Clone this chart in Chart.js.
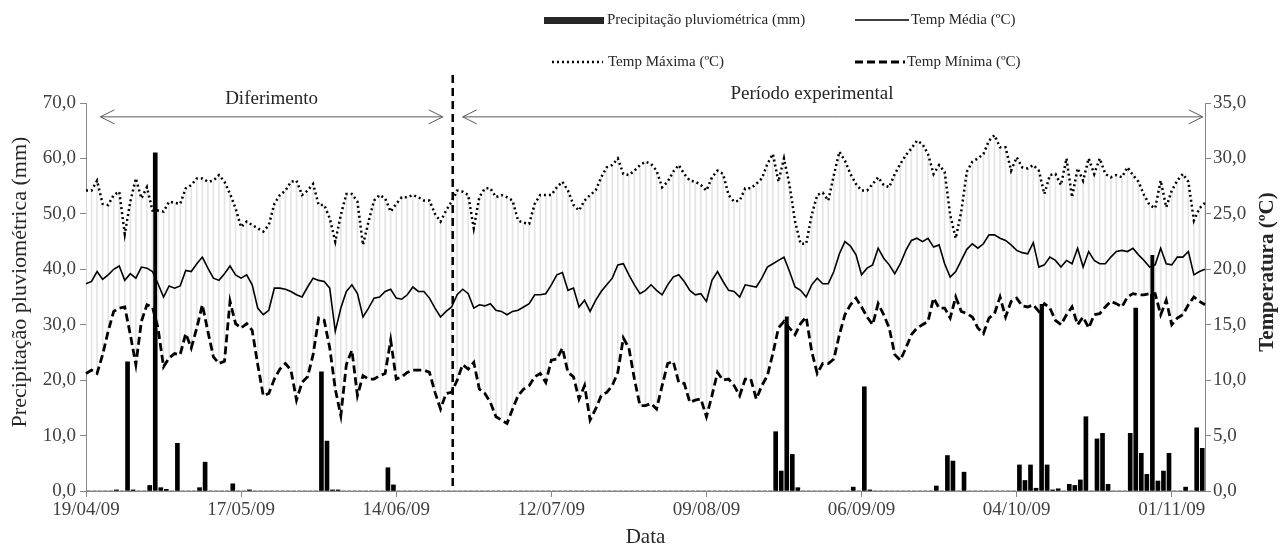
<!DOCTYPE html>
<html lang="pt">
<head>
<meta charset="UTF-8">
<title>Precipitação e temperatura diária</title>
<script src="https://cdn.jsdelivr.net/npm/chart.js@4.4.0/dist/chart.umd.min.js"></script>
<style>
  html, body { margin: 0; padding: 0; background: #fff; }
  #wrap { position: relative; width: 1284px; height: 548px; }
</style>
</head>
<body>
<div id="wrap"><canvas id="chart"></canvas></div>
<script>
// daily values, 19/04/09 onwards
const tmax = [
  27.1,27.1,28.0,25.9,25.8,26.7,27.0,23.2,26.1,28.2,
  26.4,27.4,25.3,25.3,25.2,26.1,26.0,25.9,27.3,27.6,
  28.2,28.2,27.9,28.0,28.5,27.9,26.8,25.5,23.8,24.3,
  24.0,23.7,23.4,24.0,25.9,26.7,27.1,27.9,28.0,26.7,
  27.1,27.7,25.8,25.8,24.6,22.5,24.9,26.8,26.8,26.1,
  22.2,24.3,26.2,26.7,26.4,25.2,25.9,26.5,26.5,26.7,
  26.5,26.2,26.2,25.0,24.3,25.3,26.1,27.1,27.0,26.7,
  23.7,26.5,27.3,27.3,26.5,26.7,26.5,26.2,24.4,24.2,
  24.1,25.9,26.7,26.7,26.7,27.4,27.9,27.1,25.8,25.3,
  26.2,26.7,27.1,28.3,29.2,29.4,30.0,28.6,28.5,28.9,
  29.4,29.7,29.5,28.9,27.4,27.9,28.8,29.4,28.6,28.0,
  27.9,27.6,27.1,28.3,28.9,28.6,26.7,26.1,26.2,27.3,
  27.3,27.7,28.2,29.5,30.4,27.9,30.0,27.6,24.3,22.3,
  22.3,24.9,26.7,26.9,26.2,28.5,30.6,29.8,28.6,27.7,
  27.1,27.1,27.7,28.3,27.6,27.4,28.6,29.5,30.3,30.9,
  31.6,31.3,30.4,28.6,29.4,28.8,24.9,22.8,25.2,28.8,
  29.7,30.0,30.4,31.6,32.1,31.0,31.0,28.9,30.1,29.2,
  29.1,29.4,28.9,26.8,28.5,28.6,27.6,30.0,26.5,29.1,
  28.0,30.0,28.6,30.0,28.6,28.3,28.5,28.3,29.2,28.5,
  27.9,26.7,25.8,25.5,28.0,25.6,27.1,28.0,28.6,27.9,
  24.4,25.5,26.0
];
const tmed = [
  18.7,18.9,19.8,19.1,19.5,20.0,20.3,19.0,19.6,19.2,
  20.2,20.1,19.8,18.7,17.5,18.5,18.3,18.5,19.9,19.8,
  20.5,21.1,20.1,19.2,19.0,19.6,20.3,19.5,19.2,19.5,
  18.6,16.5,15.9,16.3,18.3,18.3,18.2,18.0,17.7,17.5,
  18.4,19.2,19.0,18.9,18.3,14.4,16.5,18.0,18.6,17.8,
  15.7,16.5,17.4,17.5,18.0,18.2,17.4,17.3,17.7,18.4,
  18.0,18.0,17.4,16.5,15.7,16.2,16.6,17.7,18.2,17.8,
  16.5,16.8,16.7,16.9,16.3,16.2,15.9,16.2,16.3,16.6,
  16.9,17.7,17.7,17.8,18.6,19.5,19.7,18.1,18.3,16.6,
  17.2,16.2,17.2,18.0,18.6,19.2,20.4,20.5,19.5,18.6,
  17.8,18.1,18.6,18.1,17.7,18.6,19.3,19.5,18.9,18.1,
  17.7,17.8,17.1,19.0,19.8,18.9,18.1,18.0,17.5,18.6,
  18.5,18.4,19.2,20.2,20.5,20.8,21.1,19.8,18.4,18.1,
  17.5,18.6,19.2,18.7,18.7,19.8,21.4,22.5,22.1,21.3,
  19.5,20.1,20.4,21.9,21.0,20.4,19.6,20.5,21.7,22.6,
  22.8,22.5,22.8,22.0,22.2,20.5,19.3,19.8,20.8,21.8,
  22.3,21.9,22.3,23.1,23.1,22.8,22.6,22.2,21.7,21.5,
  21.4,22.4,20.2,20.4,21.1,20.8,20.2,20.8,20.5,21.9,
  20.2,21.6,20.8,20.5,20.5,21.1,21.6,21.7,21.6,21.9,
  21.3,20.8,20.2,20.4,21.9,20.5,20.4,21.1,21.1,21.6,
  19.5,19.8,20.0
];
const tmin = [
  10.6,10.9,10.6,12.3,14.4,16.2,16.5,16.6,14.1,11.4,
  15.3,16.8,16.6,14.7,11.2,12.0,12.4,12.3,14.2,12.9,
  14.7,16.8,14.4,12.1,11.5,11.7,17.1,15.1,14.7,15.1,
  14.5,11.4,8.6,8.8,10.1,11.0,11.5,10.9,8.2,9.8,
  10.3,12.3,15.6,15.4,12.9,9.2,6.8,11.4,12.7,8.6,
  10.4,10.1,10.1,10.4,10.6,13.6,10.1,10.3,10.7,10.9,
  10.9,10.9,10.7,8.9,7.4,8.8,8.9,10.0,11.4,11.0,
  11.6,9.2,8.8,8.0,6.7,6.4,6.1,7.4,8.6,9.2,
  9.5,10.3,10.6,9.8,11.8,11.9,12.9,10.7,10.3,8.3,
  9.5,6.4,7.4,8.6,8.9,9.5,10.7,13.8,12.9,10.1,
  7.7,7.7,7.9,7.4,9.5,11.5,11.7,9.8,9.7,8.0,
  8.2,8.3,6.7,8.6,10.7,10.0,10.1,9.5,8.6,10.1,
  10.1,8.3,9.5,10.4,12.4,14.7,15.3,14.7,14.1,15.1,
  15.7,12.6,10.6,11.5,11.5,11.9,14.1,15.9,16.8,17.4,
  16.6,15.7,15.0,16.9,15.9,14.7,12.3,11.8,12.9,14.1,
  14.7,15.0,15.3,17.4,16.5,16.5,15.6,17.5,16.2,16.0,
  15.7,14.7,14.2,15.6,16.0,17.5,15.7,17.1,17.4,16.7,
  16.6,16.8,16.2,16.9,16.5,15.4,15.0,15.9,16.6,15.0,
  15.7,14.7,15.9,16.0,16.6,17.1,16.9,16.6,17.5,17.8,
  17.7,17.7,17.8,17.8,15.9,17.2,15.0,15.6,15.9,16.8,
  17.5,17.1,16.8
];
// daily rainfall (mm)
const precip = [
  0,0,0,0,0,0.2,0,23.3,0.2,0,
  0,1.0,61.0,0.6,0.3,0,8.6,0,0,0,
  0.6,5.2,0,0,0,0,1.3,0,0,0.2,
  0,0,0,0,0,0,0,0,0,0,
  0,0,21.5,9.0,0.2,0.2,0,0,0,0,
  0,0,0,0,4.2,1.1,0,0,0,0,
  0,0,0,0,0,0,0,0,0,0,
  0,0,0,0,0,0,0,0,0,0,
  0,0,0,0,0,0,0,0,0,0,
  0,0,0,0,0,0,0,0,0,0,
  0,0,0,0,0,0,0,0,0,0,
  0,0,0,0,0,0,0,0,0,0,
  0,0,0,0,10.7,3.6,31.4,6.6,0.6,0,
  0,0,0,0,0,0,0,0,0.7,0,
  18.8,0.2,0,0,0,0,0,0,0,0,
  0,0,0,0.9,0,6.4,5.4,0,3.4,0,
  0,0,0,0,0,0,0,0,4.7,1.9,
  4.7,0.5,33.7,4.7,0.2,0.4,0,1.2,1.0,2.0,
  13.4,0,9.4,10.4,1.2,0,0,0,10.4,33.0,
  6.8,3.0,42.5,1.8,3.6,6.8,0,0,0.7,0,
  11.4,7.7
];

// date labels dd/mm/yy
const dates = [];
for (let i = 0; i < tmax.length; i++) {
  const d = new Date(Date.UTC(2009, 3, 19 + i));
  dates.push(String(d.getUTCDate()).padStart(2, '0') + '/' +
             String(d.getUTCMonth() + 1).padStart(2, '0') + '/09');
}

// annotation positions (day offsets / mm level)
const splitDay = 66.2;
const deferArrow = [2.6, 64.4];
const expArrow = [68.0, 201.6];
const arrowLevel = 67.5;

const serif = '"Liberation Serif", "Times New Roman", serif';
const txt = '#404040';
const axisGray = '#868686';
const fmt = v => v.toFixed(1).replace('.', ',');

function arrowHead(ctx, x, y, dir) {
  ctx.beginPath();
  ctx.moveTo(x - dir * 14, y - 7);
  ctx.lineTo(x, y);
  ctx.lineTo(x - dir * 14, y + 7);
  ctx.stroke();
}

function legendSwatch(ctx, x1, x2, y, width, dash) {
  ctx.save();
  ctx.strokeStyle = '#000';
  ctx.lineWidth = width;
  ctx.setLineDash(dash);
  ctx.beginPath();
  ctx.moveTo(x1, y);
  ctx.lineTo(x2, y);
  ctx.stroke();
  ctx.restore();
}

function verticalText(ctx, text, x, y, font) {
  ctx.save();
  ctx.translate(x, y);
  ctx.rotate(-Math.PI / 2);
  ctx.font = font;
  ctx.fillStyle = '#262626';
  ctx.textAlign = 'center';
  ctx.textBaseline = 'middle';
  ctx.fillText(text, 0, 0);
  ctx.restore();
}

const overlay = {
  id: 'overlay',
  afterDraw(chart) {
    const ctx = chart.ctx;
    const xs = chart.scales.x, ys = chart.scales.y;
    const area = chart.chartArea;
    ctx.save();

    // split between periods
    const sx = xs.getPixelForValue(splitDay);
    ctx.strokeStyle = '#000';
    ctx.lineWidth = 2.5;
    ctx.setLineDash([8, 5]);
    ctx.beginPath();
    ctx.moveTo(sx, 75);
    ctx.lineTo(sx, area.bottom);
    ctx.stroke();
    ctx.setLineDash([]);

    // period arrows
    const ay = ys.getPixelForValue(arrowLevel);
    ctx.strokeStyle = '#595959';
    ctx.lineWidth = 1;
    [deferArrow, expArrow].forEach(([a, b]) => {
      const x1 = xs.getPixelForValue(a), x2 = xs.getPixelForValue(b);
      ctx.beginPath();
      ctx.moveTo(x1, ay);
      ctx.lineTo(x2, ay);
      ctx.stroke();
      arrowHead(ctx, x1, ay, -1);
      arrowHead(ctx, x2, ay, 1);
    });

    ctx.fillStyle = '#262626';
    ctx.font = '19px ' + serif;
    ctx.textAlign = 'center';
    ctx.textBaseline = 'alphabetic';
    ctx.fillText('Diferimento', (xs.getPixelForValue(deferArrow[0]) + xs.getPixelForValue(deferArrow[1])) / 2, ay - 13);
    ctx.fillText('Período experimental', 812, ay - 18);

    // axis titles
    verticalText(ctx, 'Precipitação pluviométrica (mm)', 20, 282, '22px ' + serif);
    verticalText(ctx, 'Temperatura (ºC)', 1268, 272, 'bold 21px ' + serif);

    // legend
    ctx.font = '15px ' + serif;
    ctx.textAlign = 'left';
    ctx.textBaseline = 'middle';
    ctx.fillStyle = '#262626';
    ctx.fillRect(544, 17, 60, 7);
    ctx.fillText('Precipitação pluviométrica (mm)', 607, 20);
    legendSwatch(ctx, 855, 909, 20, 1.6, []);
    ctx.fillText('Temp Média (ºC)', 911, 20);
    legendSwatch(ctx, 552, 603, 62, 2.5, [2, 3]);
    ctx.fillText('Temp Máxima (ºC)', 608, 62);
    legendSwatch(ctx, 855, 905, 62, 2.8, [8, 4]);
    ctx.fillText('Temp Mínima (ºC)', 907, 62);

    ctx.restore();
  }
};

const tickFont = { family: serif, size: 19 };

new Chart(document.getElementById('chart'), {
  type: 'line',
  data: {
    labels: dates,
    datasets: [
      {
        type: 'line', label: 'Temp Média (ºC)', data: tmed,
        xAxisID: 'x', yAxisID: 'y2', borderColor: '#000', borderWidth: 1.6,
        pointRadius: 0, tension: 0, order: 0
      },
      {
        type: 'line', label: 'Temp Máxima (ºC)', data: tmax,
        xAxisID: 'x', yAxisID: 'y2', borderColor: '#000', borderWidth: 2.5,
        borderDash: [2, 3], pointRadius: 0, tension: 0, order: 0
      },
      {
        type: 'line', label: 'Temp Mínima (ºC)', data: tmin,
        xAxisID: 'x', yAxisID: 'y2', borderColor: '#000', borderWidth: 2.8,
        borderDash: [8, 4], pointRadius: 0, tension: 0, order: 0
      },
      {
        type: 'bar', label: 'amplitude', data: tmin.map((v, i) => [v, tmax[i]]),
        xAxisID: 'x', yAxisID: 'y2', backgroundColor: '#e4e4e4',
        barThickness: 1, grouped: false, order: 1
      },
      {
        type: 'bar', label: 'Precipitação pluviométrica (mm)', data: precip,
        xAxisID: 'xb', yAxisID: 'y', backgroundColor: '#000',
        barThickness: 4, grouped: false, order: 2
      }
    ]
  },
  options: {
    responsive: true,
    maintainAspectRatio: false,
    animation: false,
    layout: { padding: { top: 103, left: 0, right: 0, bottom: 0 } },
    plugins: { legend: { display: false }, tooltip: { enabled: false } },
    scales: {
      x: {
        type: 'category', offset: false, position: 'bottom',
        grid: {
          offset: false, drawOnChartArea: false, tickLength: 6,
          color: c => c.index % 28 === 0 ? axisGray : 'rgba(0,0,0,0)'
        },
        border: { color: axisGray },
        ticks: {
          autoSkip: false, maxRotation: 0, minRotation: 0, padding: 2,
          color: txt, font: tickFont,
          callback: (v, i) => i % 28 === 0 ? dates[i] : ''
        },
        title: {
          display: true, text: 'Data', color: '#262626',
          font: { family: serif, size: 21, lineHeight: 1 }, padding: { top: 0, bottom: 0 }
        },
        afterFit: s => { s.height = 57; }
      },
      xb: {
        type: 'category', labels: dates.slice(0, precip.length),
        offset: true, display: false
      },
      y: {
        position: 'left', min: 0, max: 70,
        grid: { drawOnChartArea: false, tickLength: 6, color: axisGray },
        border: { color: axisGray },
        ticks: { stepSize: 10, padding: 4, color: txt, font: tickFont, callback: v => fmt(v) },
        afterFit: s => { s.width = 86; }
      },
      y2: {
        position: 'right', min: 0, max: 35,
        grid: { drawOnChartArea: false, tickLength: 6, color: axisGray },
        border: { color: axisGray },
        ticks: { stepSize: 5, padding: 2, color: txt, font: tickFont, callback: v => fmt(v) },
        afterFit: s => { s.width = 79; }
      }
    }
  },
  plugins: [overlay]
});
</script>
</body>
</html>
